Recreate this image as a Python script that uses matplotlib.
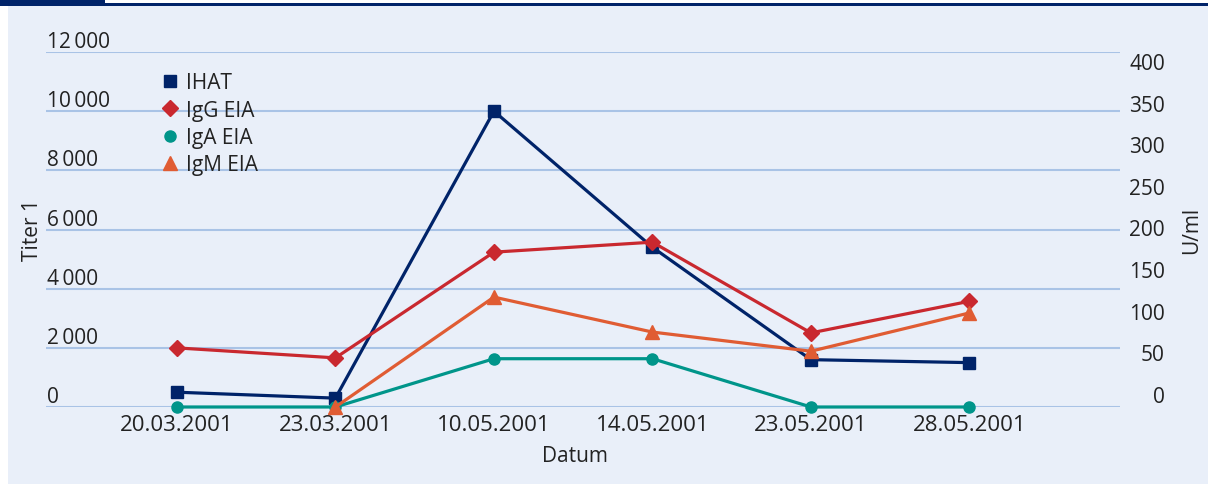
import matplotlib.pyplot as plt
from matplotlib.patches import Rectangle
import numpy as np

# DATA #######################################################################

dates = ['20.03.2001', '23.03.2001', '10.05.2001', '14.05.2001', '23.05.2001', '28.05.2001']

# titer (left axis)
ihat = [500, 300, 10000, 5400, 1600, 1500]

# U/ml (right axis)
igg_eia = [71, 59, 186, 198, 89, 127]
iga_eia = [0, 0, 58, 58, 0, 0]
igm_eia = [np.nan, 0, 132, 90, 67, 113]

left_ticks = [0, 2000, 4000, 6000, 8000, 10000, 12000]
left_labels = ['0', '2\u2009000', '4\u2009000', '6\u2009000', '8\u2009000', '10\u2009000', '12\u2009000']
right_ticks = [0, 50, 100, 150, 200, 250, 300, 350, 400]

# STYLE ######################################################################

BG = '#e9eff9'
NAVY = '#002369'
RED = '#c9282f'
TEAL = '#00958a'
ORANGE = '#e05c33'
GRID = '#a9c3e6'
TXT = '#222222'

plt.rcParams['font.family'] = ['Open Sans', 'DejaVu Sans']
plt.rcParams['font.size'] = 15

W, H = 1208, 485
fig = plt.figure(figsize=(W / 100, H / 100), dpi=100)
fig.patch.set_facecolor('white')

# panel background and header bar
fig.patches.append(Rectangle((8 / W, 0), 1 - 8 / W, 1 - 7 / H, transform=fig.transFigure,
                             facecolor=BG, edgecolor='none', zorder=-5))
fig.patches.append(Rectangle((0, 1 - 7 / H), 1, 3 / H, transform=fig.transFigure,
                             facecolor=NAVY, edgecolor='none', zorder=5))
fig.patches.append(Rectangle((0, 1 - 7 / H), 105 / W, 7 / H, transform=fig.transFigure,
                             facecolor=NAVY, edgecolor='none', zorder=5))

ax = fig.add_axes([46 / W, 1 - 408 / H, (1120 - 46) / W, (408 - 53) / H])
ax.set_facecolor('none')
ax2 = ax.twinx()
ax2.set_facecolor('none')

x = np.arange(len(dates))

ax.set_ylim(0, 12000)
ax.set_xlim(-0.826, 5.95)
ax.set_yticks(left_ticks)
ax.set_yticklabels(left_labels)
ax.grid(axis='y', color=GRID, linewidth=1.5)
ax.set_axisbelow(True)
ax.set_xticks(x)
ax.set_xticklabels(dates, color=TXT, fontsize=16)
ax.tick_params(axis='x', length=0, pad=5)
ax.tick_params(axis='y', length=0, pad=-1, colors=TXT)
for lab in ax.get_yticklabels():
    lab.set_horizontalalignment('left')
    lab.set_verticalalignment('bottom')
for sp in ax.spines.values():
    sp.set_visible(False)

ax2.set_ylim(0, 426.4)
ax2.set_yticks(right_ticks)
ax2.tick_params(axis='y', length=0, pad=32.4, colors=TXT)
for lab in ax2.get_yticklabels():
    lab.set_horizontalalignment('right')
    lab.set_verticalalignment('bottom')
for sp in ax2.spines.values():
    sp.set_visible(False)

ax.set_ylabel('Titer 1', color=TXT)
ax.yaxis.set_label_coords(-0.003, 0.5)
ax2.set_ylabel('U/ml', color=TXT)
ax2.yaxis.set_label_coords(1.0565, 0.5)
ax.set_xlabel('Datum', color=TXT)
ax.xaxis.set_label_coords(0.4925, -0.108)

# IHAT on the titer axis, EIA on the U/ml axis
h_ihat, = ax.plot(x, ihat, color=NAVY, lw=2.3, marker='s', ms=9, zorder=3,
                  clip_on=False, label='IHAT')
h_igg, = ax2.plot(x, igg_eia, color=RED, lw=2.3, marker='D', ms=8.5, zorder=3,
                  clip_on=False, label='IgG EIA')
h_iga, = ax2.plot(x, iga_eia, color=TEAL, lw=2.3, marker='o', ms=8, zorder=3,
                  clip_on=False, label='IgA EIA')
h_igm, = ax2.plot(x, igm_eia, color=ORANGE, lw=2.3, marker='^', ms=10, zorder=3,
                  clip_on=False, label='IgM EIA')

leg = ax2.legend(handles=[h_ihat, h_igg, h_iga, h_igm], loc='upper left',
                 bbox_to_anchor=(0.106, 0.972), frameon=False, handlelength=0,
                 handletextpad=0.75, labelspacing=0.3, borderpad=0)
for t in leg.get_texts():
    t.set_color(TXT)

fig.savefig('out.png', dpi=100)
